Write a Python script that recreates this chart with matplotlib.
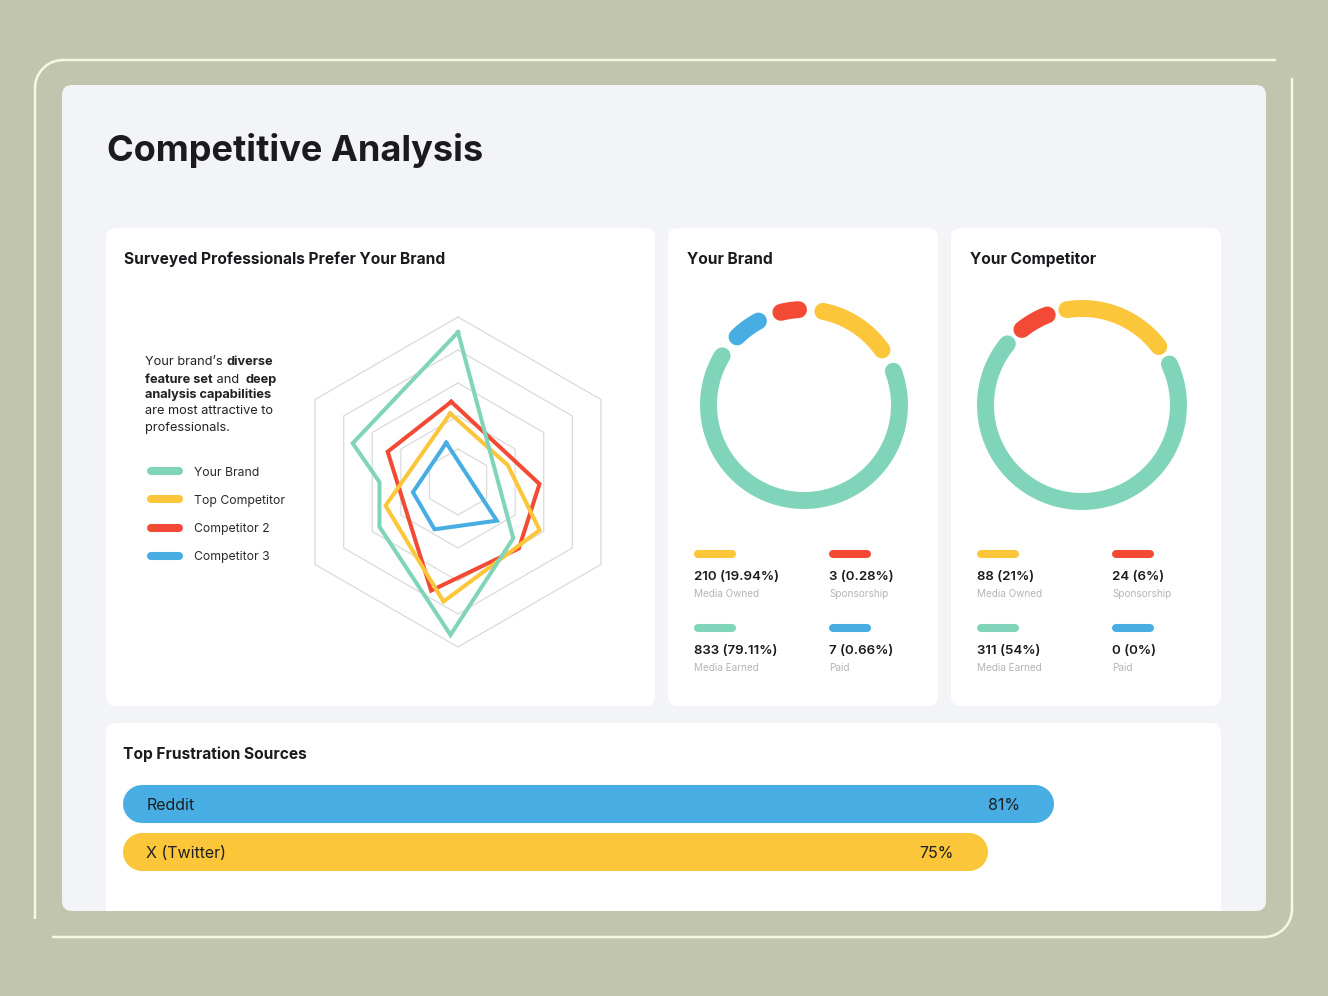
import numpy as np
import matplotlib.pyplot as plt
from matplotlib.patches import FancyBboxPatch

plt.rcParams["font.family"] = ["Inter", "DejaVu Sans"]

W, H = 1328, 996

GREEN = "#80d4ba"
YELLOW = "#fcc63a"
RED = "#f24a35"
BLUE = "#47ade2"

# radar: vertex angle (deg) and score (rings 0-5) for each series
radar_names = ["Your Brand", "Top Competitor", "Competitor 2", "Competitor 3"]
brand_angles = [90, -45.5, -92.8, -150.3, 180, 159.8]
brand_scores = [4.54, 2.39, 4.64, 2.74, 2.38, 3.40]
top_angles = [96.5, 18.9, -30.5, -96.9, -161.9]
top_scores = [2.09, 1.59, 2.87, 3.65, 2.31]
comp2_angles = [94.8, -1.4, -47.5, -103.9, 156.7]
comp2_scores = [2.44, 2.47, 2.73, 3.39, 2.32]
comp3_angles = [106.7, -44.9, -116.4, -167.2]
comp3_scores = [1.24, 1.66, 1.60, 1.40]
ring_levels = [1, 2, 3, 4, 5]

# media channels
channel_names = ["Media Owned", "Sponsorship", "Media Earned", "Paid"]
brand_counts = [210, 3, 833, 7]
brand_pcts = ["19.94%", "0.28%", "79.11%", "0.66%"]
comp_counts = [88, 24, 311, 0]
comp_pcts = ["21%", "6%", "54%", "0%"]

# ring segments as drawn (deg sweep), clockwise starting with Media Owned
brand_ring_order = ["Media Owned", "Media Earned", "Paid", "Sponsorship"]
brand_ring_sweep = [43.4, 231.7, 16.0, 10.7]
comp_ring_order = ["Media Owned", "Media Earned", "Sponsorship"]
comp_ring_sweep = [61.7, 244.4, 17.4]

# frustration sources
sources = ["Reddit", "X (Twitter)"]
source_pcts = [81, 75]

channel_colors = {"Media Owned": YELLOW, "Sponsorship": RED,
                  "Media Earned": GREEN, "Paid": BLUE}
radar_colors = [GREEN, YELLOW, RED, BLUE]


fig = plt.figure(figsize=(W / 100, H / 100), dpi=100)
fig.patch.set_facecolor("#c2c5ae")


def px_axes(x0, y0, x1, y1, **kw):
    return fig.add_axes([x0 / W, 1 - y1 / H, (x1 - x0) / W, (y1 - y0) / H], **kw)


bg = px_axes(0, 0, W, H)
bg.set_xlim(0, W)
bg.set_ylim(H, 0)
bg.axis("off")


def rbox(x0, y0, x1, y1, rad, **kw):
    p = FancyBboxPatch((x0, y0), x1 - x0, y1 - y0,
                       boxstyle=f"round,pad=0,rounding_size={rad}", **kw)
    bg.add_patch(p)
    return p


# light frame drawn as two open strokes (gaps at top-right / bottom-left)
def corner(xc, yc, r, a0, a1):
    a = np.deg2rad(np.linspace(a0, a1, 30))
    return xc + r * np.cos(a), yc + r * np.sin(a)

fr = 28
ax1, ay1 = corner(35 + fr, 60 + fr, fr, 180, 270)
bg.plot(np.r_[35, ax1, 1276], np.r_[919, ay1, 60], color="#f8f8e2", lw=1.8,
        solid_capstyle="butt")
ax2, ay2 = corner(1292 - fr, 937 - fr, fr, 0, 90)
bg.plot(np.r_[1292, ax2, 52], np.r_[78, ay2, 937], color="#f8f8e2", lw=1.8,
        solid_capstyle="butt")

panel = rbox(62, 85, 1266, 911, 10, fc="#f3f4f8", ec="none")
rbox(106, 228, 655, 706, 10, fc="white", ec="none")
rbox(668, 228, 938, 706, 10, fc="white", ec="none")
rbox(951, 228, 1221, 706, 10, fc="white", ec="none")
bottom = rbox(106, 723, 1221, 960, 10, fc="white", ec="none")
bottom.set_clip_path(panel)

TXT = "#1b1b1f"
bg.text(107, 150.5, "Competitive Analysis", fontsize=26, fontweight="bold",
        color=TXT, va="center")
title_kw = dict(fontsize=11.2, fontweight="bold", color=TXT, va="center")
bg.text(124, 259.5, "Surveyed Professionals Prefer Your Brand", **title_kw)
bg.text(687, 259.5, "Your Brand", **title_kw)
bg.text(970, 259.5, "Your Competitor", **title_kw)
bg.text(123, 754.5, "Top Frustration Sources", **title_kw)

# paragraph with mixed weights
para = [
    (361.5, [("Your brand\u2019s ", "normal"), ("diverse", "bold")]),
    (379.5, [("feature set", "bold"), (" and  ", "normal"), ("deep", "bold")]),
    (394.5, [("analysis capabilities", "bold")]),
    (410.5, [("are most attractive to", "normal")]),
    (427.5, [("professionals.", "normal")]),
]
for y, pieces in para:
    prev = None
    for s, wt in pieces:
        if prev is None:
            prev = bg.text(145, y, s, fontsize=9.2, fontweight=wt, color="#222",
                           va="center", ha="left")
        else:
            prev = bg.annotate(s, xy=(1, 0), xycoords=prev, fontsize=9.2,
                               fontweight=wt, color="#222", va="bottom", ha="left")

# radar legend
for i, (name, c) in enumerate(zip(radar_names, radar_colors)):
    y = 471 + i * 28.3
    bg.plot([151, 179], [y, y], color=c, lw=5.8, solid_capstyle="round")
    bg.text(194, y + 1.5, name, fontsize=8.8, color="#2a2a2a", va="center")

# radar chart
cx, cy, R = 458, 482, 165
rmax = 5.4
half = R * rmax / 5
rad = px_axes(cx - half, cy - half, cx + half, cy + half, projection="polar")
rad.set_ylim(0, rmax)
rad.axis("off")
hex_t = np.deg2rad(np.arange(90, 451, 60))
for lvl in ring_levels:
    rad.plot(hex_t, [lvl] * len(hex_t), color="#dadada", lw=0.9, zorder=1)

series = [(comp2_angles, comp2_scores, RED),
          (top_angles, top_scores, YELLOW),
          (comp3_angles, comp3_scores, BLUE),
          (brand_angles, brand_scores, GREEN)]
for angles, scores, c in series:
    t = np.deg2rad(angles + angles[:1])
    r = scores + scores[:1]
    rad.plot(t, r, color=c, lw=2.9, solid_joinstyle="miter", zorder=3)


def draw_donut(cx, cy, rmid, order, sweeps, start, gap):
    half = rmid * 1.3
    ax = px_axes(cx - half, cy - half, cx + half, cy + half, projection="polar")
    ax.set_theta_zero_location("N")
    ax.set_theta_direction(-1)
    ax.set_ylim(0, 1.3)
    ax.axis("off")
    a = start
    for name, sweep in zip(order, sweeps):
        th = np.deg2rad(np.linspace(a, a + sweep, 90))
        ax.plot(th, np.ones_like(th), color=channel_colors[name], lw=12.2,
                solid_capstyle="round", clip_on=False)
        a += sweep + gap


def donut_legend(x0, counts, pcts):
    for i, name in enumerate(channel_names):
        x = x0 + 26 + (i % 2) * 135
        y = 554 + (i // 2) * 74
        bg.plot([x + 4, x + 38], [y, y], color=channel_colors[name], lw=5.8,
                solid_capstyle="round")
        bg.text(x, y + 22.5, f"{counts[i]} ({pcts[i]})", fontsize=9.6,
                fontweight="semibold", color=TXT, va="center")
        bg.text(x, y + 39.5, name, fontsize=7.2, color="#b4b4b4", va="center")


draw_donut(804, 405, 95.5, brand_ring_order, brand_ring_sweep, 11.4, 14.5)
draw_donut(1082, 405, 96.5, comp_ring_order, comp_ring_sweep, -9.0, 12.2)
donut_legend(668, brand_counts, brand_pcts)
donut_legend(951, comp_counts, comp_pcts)

# frustration bars
scale = 11.02  # px per percent
bx0 = 142
bar = px_axes(bx0, 780, bx0 + 100 * scale, 876)
bar.set_xlim(0, 100)
bar.set_ylim(1.5, -0.5)
bar.axis("off")
bar_colors = [BLUE, YELLOW]
for i, (name, v) in enumerate(zip(sources, source_pcts)):
    bar.plot([0, v], [i, i], color=bar_colors[i], lw=27.4,
             solid_capstyle="round", clip_on=False)
    bar.annotate(name, xy=(0, i), xytext=(3, -1), textcoords="offset points",
                 fontsize=11.5, color="#1f1f1f", va="center", ha="left")
    bar.annotate(f"{v}%", xy=(v, i), xytext=(-10.5, -1), textcoords="offset points",
                 fontsize=11.5, color="#1f1f1f", va="center", ha="right")

fig.savefig("out.png", dpi=100)
